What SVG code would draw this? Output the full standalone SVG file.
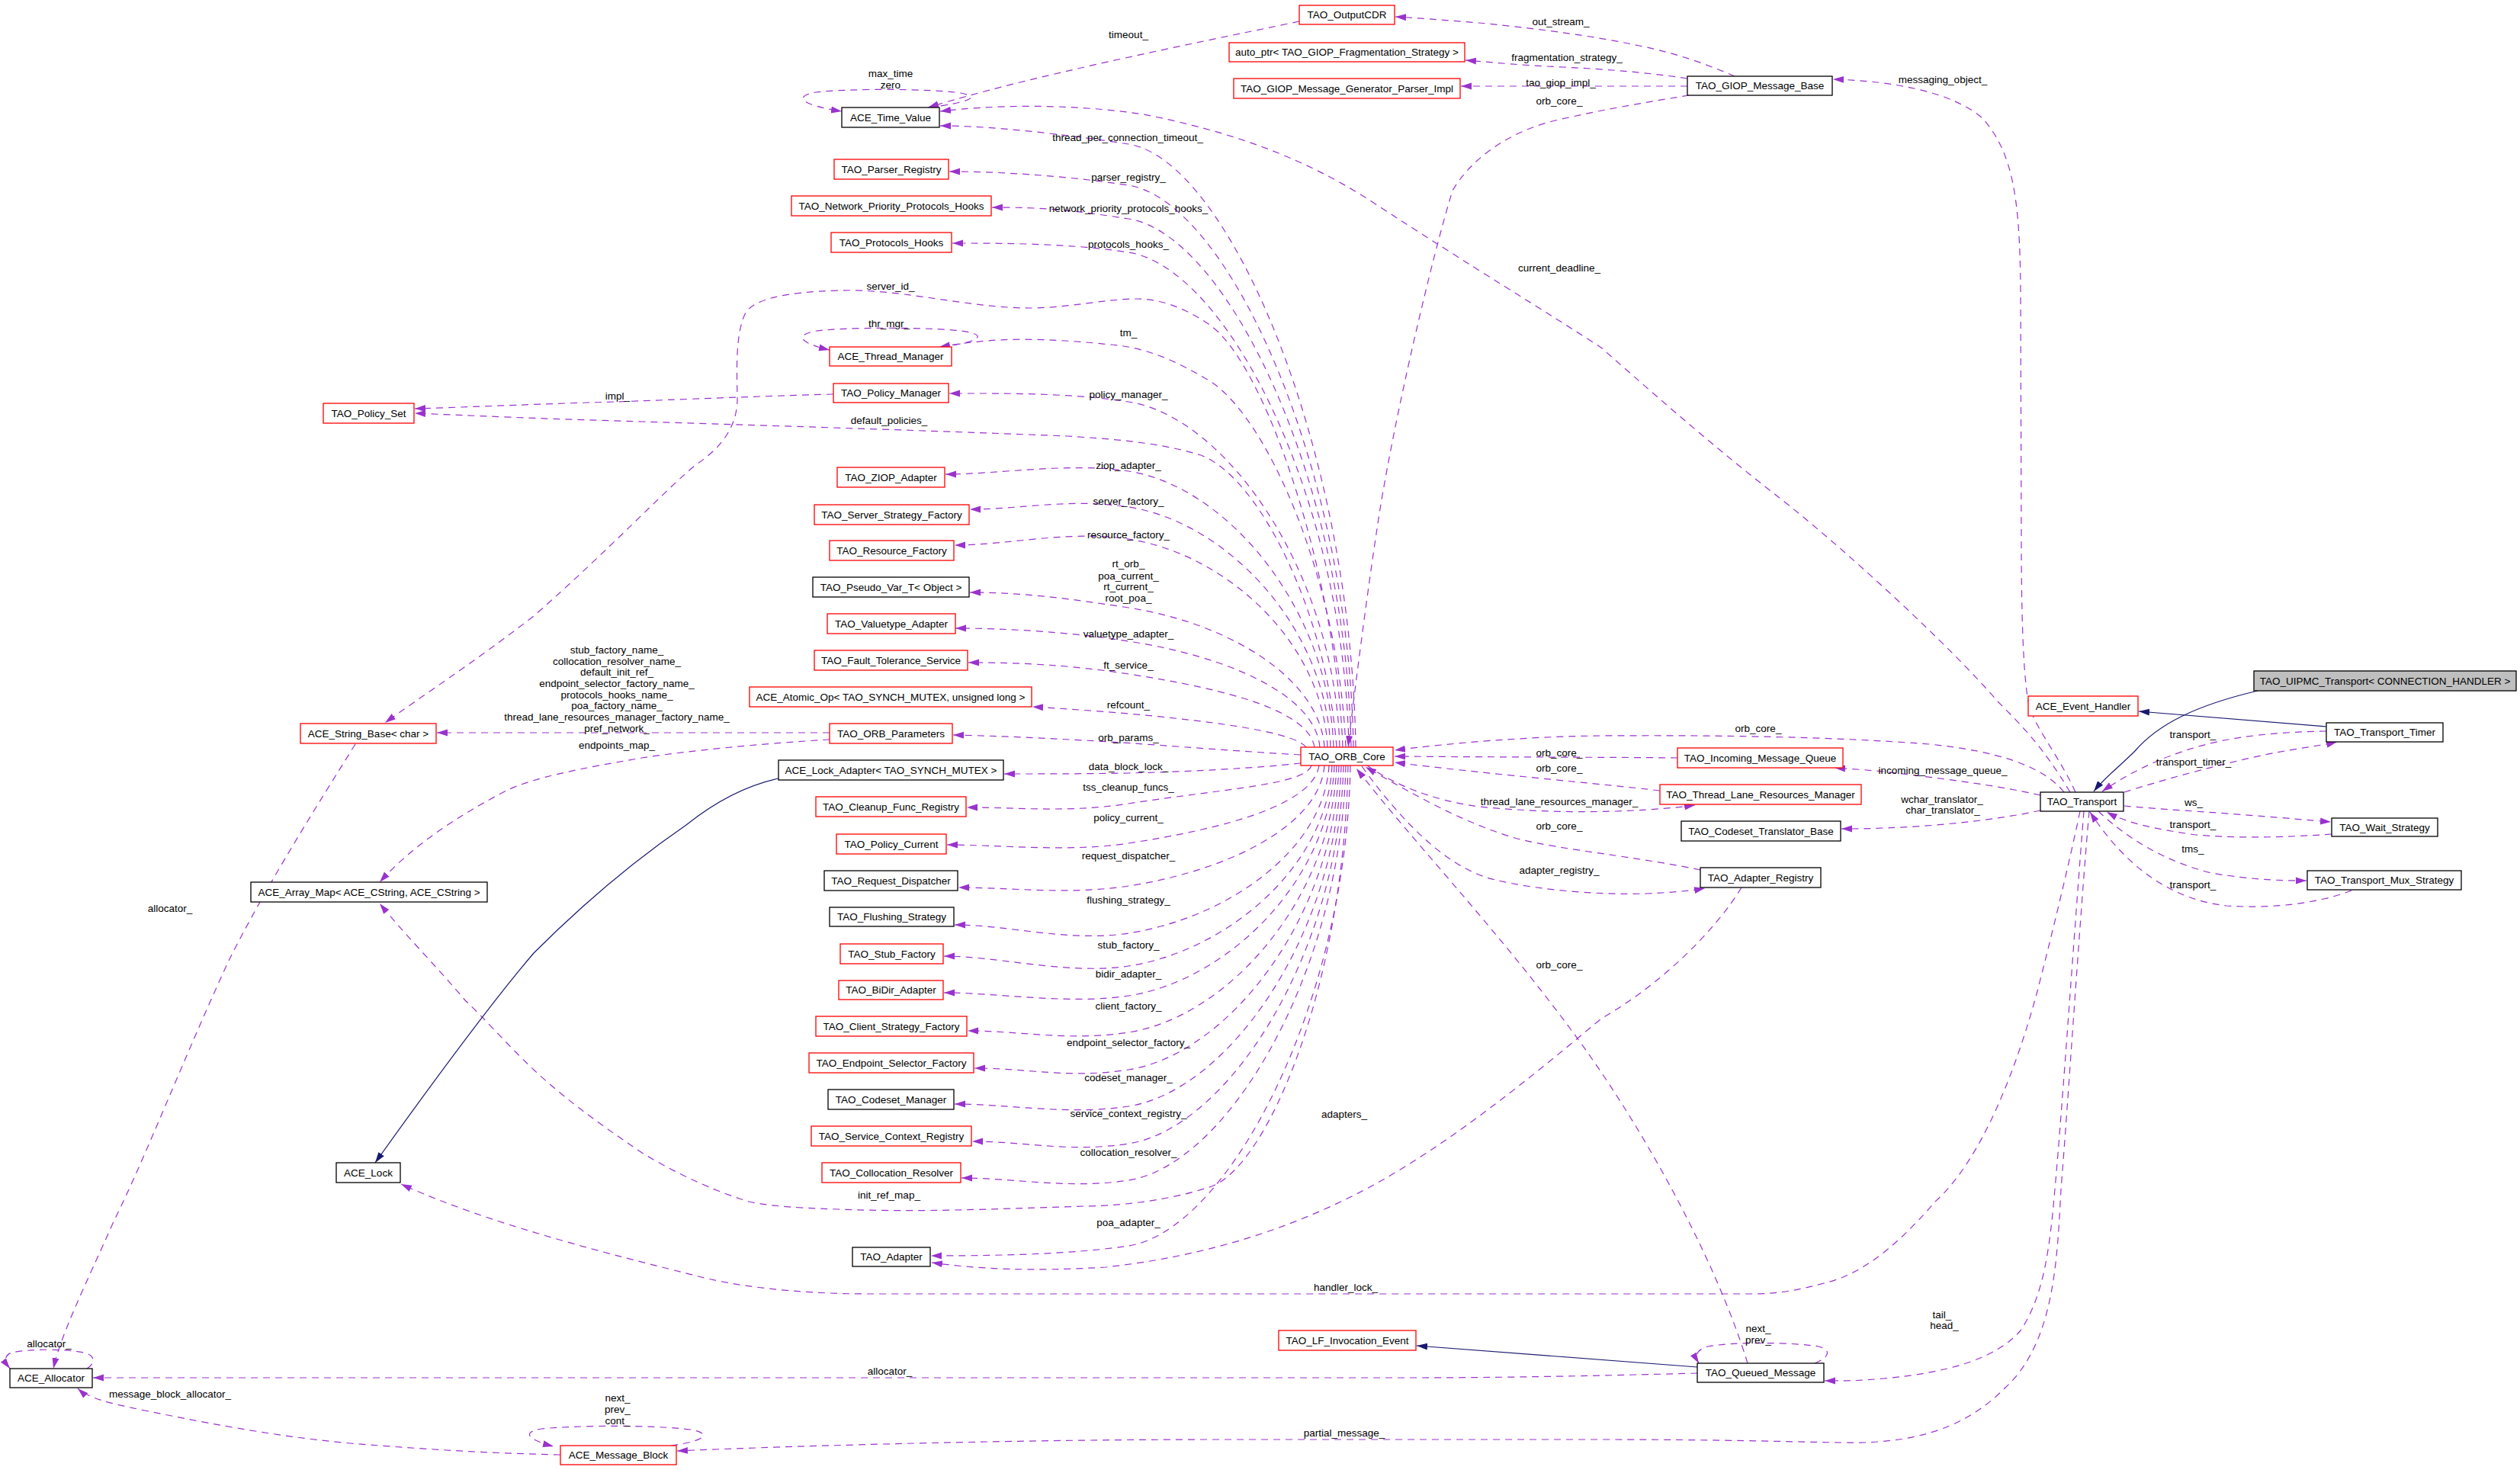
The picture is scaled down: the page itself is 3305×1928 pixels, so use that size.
<svg xmlns="http://www.w3.org/2000/svg" width="3305" height="1928" viewBox="0 0 3305 1928">
<style>
rect.r{fill:#fff;stroke:#ff0000;stroke-width:1.3}
rect.b{fill:#fff;stroke:#000;stroke-width:1.3}
rect.g{fill:#bfbfbf;stroke:#000;stroke-width:1.3}
text{font-family:"Liberation Sans",Arial,sans-serif;font-size:13.5px;fill:#000;text-anchor:middle}
#connectors path{fill:none}
.d{stroke:#9a32cd;stroke-width:1.2;stroke-dasharray:9,7;marker-end:url(#ap)}
.s{stroke:#191970;stroke-width:1.2;marker-end:url(#ab)}
</style>
<defs>
<marker id="ap" markerUnits="userSpaceOnUse" markerWidth="14" markerHeight="10" viewBox="0 0 14 10" refX="14" refY="5" orient="auto"><path d="M0,0.5 L14,5 L0,9.5 z" fill="#9a32cd"/></marker>
<marker id="ab" markerUnits="userSpaceOnUse" markerWidth="14" markerHeight="10" viewBox="0 0 14 10" refX="14" refY="5" orient="auto"><path d="M0,0.5 L14,5 L0,9.5 z" fill="#191970"/></marker>
</defs>
<rect width="3305" height="1928" fill="#fff"/>
<g id="connectors">
<path class="d" d="M2275,100 C2240,85 2200,70 2150,60 C2080,45 2000,36 1940,30 C1890,26 1850,23 1830,22"/>
<path class="d" d="M2213,103 C2160,95 2110,91 2050,88 C2000,86 1960,82 1922,79"/>
<path class="d" d="M2213,113 L1916,113"/>
<path class="d" d="M2215,125 C2160,134 2100,144 2040,158 C1970,175 1925,215 1905,250 C1880,330 1825,560 1805,700 C1790,800 1775,920 1768,979"/>
<path class="d" d="M1704,28 C1550,60 1350,100 1217,141"/>
<path class="d" d="M2715,1039 C2680,980 2650,950 2620,920 C2560,850 2420,720 2330,650 C2240,580 2150,500 2100,456 C2030,410 1930,350 1800,265 C1700,200 1600,170 1500,150 C1400,135 1300,138 1233,146"/>
<path class="d" d="M2722,1039 C2700,990 2665,950 2660,920 C2653,880 2651,800 2651,700 L2650,380 C2649,260 2640,200 2600,155 C2560,120 2480,106 2404,104"/>
<path class="d" d="M1218,141 C1265,135 1290,128 1260,122 C1220,116 1110,116 1070,121 C1040,126 1050,138 1104,146"/>
<path class="d" d="M1235,455 C1290,448 1295,438 1260,434 C1220,429 1110,429 1070,434 C1040,440 1050,450 1088,459"/>
<path class="d" d="M1778,980 C1772,585 1610,209 1480,189 C1402,177 1304,165 1233,165"/>
<path class="d" d="M1775,980 C1769,612 1610,263 1480,243 C1402,231 1315,225 1245,225"/>
<path class="d" d="M1772,980 C1766,634 1610,307 1480,287 C1402,275 1371,272 1301,272"/>
<path class="d" d="M1769,980 C1763,656 1610,351 1480,331 C1402,319 1319,319 1249,319"/>
<path class="d" d="M1765,980 C1756,760 1660,540 1582,497 C1540,472 1500,455 1456,452 C1400,446 1340,443 1295,447 C1270,449 1250,452 1232,455"/>
<path class="d" d="M1761,980 C1753,760 1660,470 1582,423 C1550,402 1520,392 1491,392 C1450,392 1400,404 1351,404 C1270,404 1180,378 1100,381 C1030,383 990,392 978,410 C965,435 966,480 967,520 C968,555 950,585 912,610 C870,645 800,720 700,808 C620,870 550,915 505,948"/>
<path class="d" d="M1757,980 C1751,754 1610,547 1480,527 C1402,515 1315,516 1245,516"/>
<path class="d" d="M1753,980 C1739,800 1650,625 1575,597 C1520,580 1460,576 1400,572 C1200,564 1000,558 842,553 C700,549 620,545 544,542"/>
<path class="d" d="M1093,517 C950,521 850,526 771,528 C680,531 610,534 544,536"/>
<path class="d" d="M1749,980 C1743,799 1610,638 1480,618 C1402,606 1310,622 1240,622"/>
<path class="d" d="M1745,980 C1739,823 1610,685 1480,665 C1402,653 1342,668 1272,668"/>
<path class="d" d="M1741,980 C1735,844 1610,727 1480,707 C1402,695 1322,715 1252,715"/>
<path class="d" d="M1737,980 C1731,889 1610,817 1480,797 C1402,785 1342,777 1272,777"/>
<path class="d" d="M1731,980 C1725,911 1610,861 1480,841 C1402,829 1323,824 1253,824"/>
<path class="d" d="M1724,980 C1716,932 1610,904 1480,884 C1402,872 1340,869 1270,869"/>
<path class="d" d="M1713,980 C1698,960 1590,946 1480,936 C1430,932 1390,929 1354,927"/>
<path class="d" d="M1706,990 C1600,984 1500,975 1421,971 C1350,967 1300,965 1250,964"/>
<path class="d" d="M1706,1001 C1640,1008 1560,1012 1480,1014 C1420,1015 1360,1015 1317,1015"/>
<path class="d" d="M1720,1004 C1712,1029 1610,1034 1480,1054 C1402,1066 1338,1059 1268,1059"/>
<path class="d" d="M1730,1004 C1722,1055 1610,1086 1480,1106 C1402,1118 1312,1108 1242,1108"/>
<path class="d" d="M1737,1004 C1731,1083 1610,1142 1480,1162 C1402,1174 1327,1164 1257,1164"/>
<path class="d" d="M1743,1004 C1737,1114 1610,1204 1480,1224 C1402,1236 1322,1213 1252,1213"/>
<path class="d" d="M1747,1004 C1741,1136 1610,1247 1480,1267 C1402,1279 1308,1254 1238,1254"/>
<path class="d" d="M1750,1004 C1744,1155 1610,1286 1480,1306 C1402,1318 1308,1302 1238,1302"/>
<path class="d" d="M1753,1004 C1747,1179 1610,1334 1480,1354 C1402,1366 1339,1352 1269,1352"/>
<path class="d" d="M1756,1004 C1750,1204 1610,1383 1480,1403 C1402,1415 1348,1401 1278,1401"/>
<path class="d" d="M1759,1004 C1753,1228 1610,1431 1480,1451 C1402,1463 1322,1448 1252,1448"/>
<path class="d" d="M1762,1004 C1756,1252 1610,1480 1480,1500 C1402,1512 1345,1497 1275,1497"/>
<path class="d" d="M1765,1004 C1759,1276 1610,1528 1480,1548 C1402,1560 1331,1545 1261,1545"/>
<path class="d" d="M1768,1004 C1762,1300 1660,1530 1589,1556 C1530,1576 1460,1582 1421,1582 C1300,1586 1200,1590 1100,1586 C1030,1584 1000,1580 982,1576 C930,1560 880,1535 842,1512 C780,1470 740,1440 701,1404 C660,1365 635,1335 610,1312 C575,1270 530,1225 498,1185"/>
<path class="d" d="M1771,1004 C1766,1319 1610,1614 1480,1634 C1402,1646 1291,1647 1221,1647"/>
<path class="d" d="M1088,961 L573,961"/>
<path class="d" d="M1088,970 C1000,975 900,985 842,994 C760,1008 700,1020 666,1036 C600,1070 540,1110 498,1157"/>
<path class="d" d="M2707,1039 C2680,1005 2620,985 2530,976 C2400,966 2250,964 2100,965 C2000,966 1900,975 1829,984"/>
<path class="d" d="M2200,994 C2100,993 1950,993 1829,992"/>
<path class="d" d="M2177,1037 C2100,1028 1950,1015 1829,1000"/>
<path class="d" d="M1793,1004 C1830,1030 1880,1050 1940,1058 C2020,1066 2100,1066 2160,1062 C2190,1060 2210,1058 2223,1056"/>
<path class="d" d="M2230,1141 C2150,1124 2050,1115 1990,1100 C1920,1080 1850,1040 1791,1006"/>
<path class="d" d="M1786,1005 C1840,1080 1900,1140 1961,1154 C2020,1168 2100,1174 2160,1172 C2200,1170 2220,1168 2236,1165"/>
<path class="d" d="M2292,1788 C2250,1650 2150,1470 2060,1350 C1960,1215 1850,1100 1779,1008"/>
<path class="d" d="M2284,1164 C2250,1220 2180,1290 2100,1336 C2000,1420 1900,1500 1800,1555 C1680,1620 1560,1650 1450,1662 C1350,1668 1280,1664 1222,1656"/>
<path class="d" d="M2676,1043 C2620,1030 2540,1020 2470,1012 C2440,1009 2420,1008 2406,1007"/>
<path class="d" d="M2676,1063 C2620,1075 2540,1084 2470,1086 C2450,1087 2430,1087 2415,1087"/>
<path class="d" d="M2786,1039 C2830,1025 2900,1005 2970,990 C3020,980 3045,978 3065,973"/>
<path class="d" d="M3051,959 C2990,960 2930,965 2880,980 C2830,995 2790,1015 2757,1038"/>
<path class="s" d="M2961,906 C2880,925 2830,950 2800,985 C2775,1010 2760,1020 2746,1038"/>
<path class="s" d="M3051,953 L2805,933"/>
<path class="d" d="M2786,1057 C2840,1062 2900,1065 2960,1070 C3000,1073 3030,1076 3057,1078"/>
<path class="d" d="M3058,1094 C3000,1098 2940,1100 2880,1095 C2830,1088 2790,1080 2763,1065"/>
<path class="d" d="M2752,1064 C2790,1100 2840,1130 2900,1145 C2960,1155 3000,1155 3025,1155"/>
<path class="d" d="M3084,1168 C3040,1185 2980,1192 2920,1188 C2850,1180 2790,1140 2741,1065"/>
<path class="d" d="M2728,1064 C2712,1140 2690,1230 2672,1300 C2645,1400 2600,1520 2538,1576 C2500,1620 2450,1670 2392,1683 C2360,1692 2330,1697 2300,1697 L1140,1697 C1040,1697 960,1686 912,1673 C800,1645 640,1605 526,1553"/>
<path class="d" d="M2733,1064 C2722,1200 2705,1450 2695,1560 C2688,1640 2680,1700 2650,1745 C2620,1780 2560,1800 2470,1808 C2440,1811 2420,1811 2393,1811"/>
<path class="d" d="M2740,1064 C2728,1200 2712,1450 2703,1560 C2698,1650 2695,1760 2630,1820 C2590,1860 2540,1888 2446,1892 C2400,1893 2300,1888 2100,1888 L1600,1888 C1300,1888 1000,1898 888,1903"/>
<path class="d" d="M2226,1801 C2150,1803 2000,1807 1850,1807 L122,1807"/>
<path class="s" d="M2226,1793 L1858,1765"/>
<path class="d" d="M2380,1788 C2400,1780 2402,1770 2385,1766 C2350,1760 2270,1760 2240,1766 C2225,1770 2222,1778 2228,1788"/>
<path class="d" d="M880,1896 C925,1890 935,1880 905,1875 C860,1869 760,1869 710,1874 C685,1878 690,1888 726,1897"/>
<path class="d" d="M735,1908 C640,1906 560,1901 460,1893 C350,1883 250,1862 190,1850 C140,1840 115,1833 102,1821"/>
<path class="d" d="M114,1795 C125,1788 126,1778 110,1774 C85,1769 40,1769 15,1774 C5,1778 6,1786 13,1795"/>
<path class="d" d="M466,976 C420,1050 350,1160 300,1260 C240,1390 190,1520 150,1600 C110,1690 80,1750 70,1795"/>
<path class="s" d="M1021,1021 C980,1030 940,1050 900,1082 C830,1130 760,1190 700,1250 C640,1320 560,1430 492,1525"/>
</g>
<g id="edge-labels">
<text x="1480" y="49.6">timeout_</text>
<text x="1168" y="100.6">max_time</text>
<text x="1168" y="115.8">zero</text>
<text x="2047" y="32.6">out_stream_</text>
<text x="2055" y="79.8">fragmentation_strategy_</text>
<text x="2047" y="112.8">tao_giop_impl_</text>
<text x="2045" y="136.8">orb_core_</text>
<text x="2548" y="108.8">messaging_object_</text>
<text x="1479" y="184.8">thread_per_connection_timeout_</text>
<text x="1480" y="236.8">parser_registry_</text>
<text x="1480" y="277.6">network_priority_protocols_hooks_</text>
<text x="1480" y="324.8">protocols_hooks_</text>
<text x="2045" y="356.3">current_deadline_</text>
<text x="1168" y="379.8">server_id_</text>
<text x="1166" y="428.5">thr_mgr_</text>
<text x="1480" y="441.3">tm_</text>
<text x="810" y="523.8">impl_</text>
<text x="1480" y="522.2">policy_manager_</text>
<text x="1166" y="556.1">default_policies_</text>
<text x="1480" y="615.4">ziop_adapter_</text>
<text x="1480" y="661.8">server_factory_</text>
<text x="1480" y="705.8">resource_factory_</text>
<text x="1480" y="744.3">rt_orb_</text>
<text x="1480" y="759.7">poa_current_</text>
<text x="1480" y="774.2">rt_current_</text>
<text x="1480" y="788.7">root_poa_</text>
<text x="1480" y="835.5">valuetype_adapter_</text>
<text x="1480" y="876.6">ft_service_</text>
<text x="1480" y="929.2">refcount_</text>
<text x="1480" y="971.9">orb_params_</text>
<text x="1480" y="1009.7">data_block_lock_</text>
<text x="1480" y="1036.6">tss_cleanup_funcs_</text>
<text x="1480" y="1076.8">policy_current_</text>
<text x="1480" y="1127.4">request_dispatcher_</text>
<text x="1480" y="1184.6">flushing_strategy_</text>
<text x="1480" y="1243.5">stub_factory_</text>
<text x="1480" y="1281.6">bidir_adapter_</text>
<text x="1480" y="1324">client_factory_</text>
<text x="1480" y="1371.7">endpoint_selector_factory_</text>
<text x="1480" y="1417.7">codeset_manager_</text>
<text x="1480" y="1465.4">service_context_registry_</text>
<text x="1480" y="1515.5">collocation_resolver_</text>
<text x="1166" y="1572.3">init_ref_map_</text>
<text x="1480" y="1608">poa_adapter_</text>
<text x="1763" y="1465.8">adapters_</text>
<text x="1765" y="1693.3">handler_lock_</text>
<text x="1167" y="1803.4">allocator_</text>
<text x="1763" y="1883.5">partial_message_</text>
<text x="809" y="856.7">stub_factory_name_</text>
<text x="809" y="871.6">collocation_resolver_name_</text>
<text x="809" y="885.7">default_init_ref_</text>
<text x="809" y="900.6">endpoint_selector_factory_name_</text>
<text x="809" y="915.5">protocols_hooks_name_</text>
<text x="809" y="929.6">poa_factory_name_</text>
<text x="809" y="944.6">thread_lane_resources_manager_factory_name_</text>
<text x="809" y="959.5">pref_network_</text>
<text x="809" y="981.5">endpoints_map_</text>
<text x="223" y="1195.8">allocator_</text>
<text x="64.5" y="1767.4">allocator_</text>
<text x="223" y="1832.7">message_block_allocator_</text>
<text x="810" y="1837.5">next_</text>
<text x="810" y="1852.7">prev_</text>
<text x="810" y="1867.5">cont_</text>
<text x="2306" y="959.8">orb_core_</text>
<text x="2045" y="991.8">orb_core_</text>
<text x="2045" y="1011.8">orb_core_</text>
<text x="2045" y="1055.8">thread_lane_resources_manager_</text>
<text x="2045" y="1087.8">orb_core_</text>
<text x="2045" y="1145.8">adapter_registry_</text>
<text x="2045" y="1269.6">orb_core_</text>
<text x="2548" y="1015.4">incoming_message_queue_</text>
<text x="2547" y="1052.8">wchar_translator_</text>
<text x="2548" y="1067.3">char_translator_</text>
<text x="2876" y="967.8">transport_</text>
<text x="2877" y="1003.8">transport_timer_</text>
<text x="2877" y="1056.8">ws_</text>
<text x="2876" y="1085.8">transport_</text>
<text x="2876" y="1117.8">tms_</text>
<text x="2876" y="1164.8">transport_</text>
<text x="2547" y="1728.5">tail_</text>
<text x="2550" y="1743.4">head_</text>
<text x="2306" y="1747.4">next_</text>
<text x="2306" y="1762.2">prev_</text>
</g>
<g id="TAO_OutputCDR"><rect class="r" x="1704" y="7" width="125" height="25"/><text x="1766.5" y="24.3">TAO_OutputCDR</text></g>
<g id="auto_ptr_Fragmentation"><rect class="r" x="1612" y="56" width="309" height="25"/><text x="1766.5" y="73.3">auto_ptr&lt; TAO_GIOP_Fragmentation_Strategy &gt;</text></g>
<g id="TAO_GIOP_Message_Generator_Parser_Impl"><rect class="r" x="1618" y="103" width="297" height="26"/><text x="1766.5" y="120.8">TAO_GIOP_Message_Generator_Parser_Impl</text></g>
<g id="TAO_GIOP_Message_Base"><rect class="b" x="2213" y="100" width="190" height="25"/><text x="2308" y="117.3">TAO_GIOP_Message_Base</text></g>
<g id="ACE_Time_Value"><rect class="b" x="1104" y="141" width="128" height="26"/><text x="1168" y="158.8">ACE_Time_Value</text></g>
<g id="TAO_Parser_Registry"><rect class="r" x="1094" y="209" width="150" height="26"/><text x="1169" y="226.8">TAO_Parser_Registry</text></g>
<g id="TAO_Network_Priority_Protocols_Hooks"><rect class="r" x="1038" y="257" width="262" height="26"/><text x="1169" y="274.8">TAO_Network_Priority_Protocols_Hooks</text></g>
<g id="TAO_Protocols_Hooks"><rect class="r" x="1090" y="305" width="158" height="26"/><text x="1169" y="322.8">TAO_Protocols_Hooks</text></g>
<g id="ACE_Thread_Manager"><rect class="r" x="1088" y="455" width="160" height="25"/><text x="1168" y="472.3">ACE_Thread_Manager</text></g>
<g id="TAO_Policy_Manager"><rect class="r" x="1093" y="503" width="151" height="25"/><text x="1168.5" y="520.3">TAO_Policy_Manager</text></g>
<g id="TAO_Policy_Set"><rect class="r" x="424" y="529" width="119" height="26"/><text x="483.5" y="546.8">TAO_Policy_Set</text></g>
<g id="TAO_ZIOP_Adapter"><rect class="r" x="1098" y="613" width="141" height="26"/><text x="1168.5" y="630.8">TAO_ZIOP_Adapter</text></g>
<g id="TAO_Server_Strategy_Factory"><rect class="r" x="1068" y="662" width="203" height="26"/><text x="1169.5" y="679.8">TAO_Server_Strategy_Factory</text></g>
<g id="TAO_Resource_Factory"><rect class="r" x="1088" y="709" width="163" height="26"/><text x="1169.5" y="726.8">TAO_Resource_Factory</text></g>
<g id="TAO_Pseudo_Var_T_Object"><rect class="b" x="1066" y="757" width="205" height="26"/><text x="1168.5" y="774.8">TAO_Pseudo_Var_T&lt; Object &gt;</text></g>
<g id="TAO_Valuetype_Adapter"><rect class="r" x="1085" y="805" width="168" height="26"/><text x="1169" y="822.8">TAO_Valuetype_Adapter</text></g>
<g id="TAO_Fault_Tolerance_Service"><rect class="r" x="1068" y="853" width="201" height="26"/><text x="1168.5" y="870.8">TAO_Fault_Tolerance_Service</text></g>
<g id="ACE_Atomic_Op"><rect class="r" x="983" y="901" width="370" height="26"/><text x="1168" y="918.8">ACE_Atomic_Op&lt; TAO_SYNCH_MUTEX, unsigned long &gt;</text></g>
<g id="ACE_String_Base_char"><rect class="r" x="394" y="949" width="178" height="26"/><text x="483" y="966.8">ACE_String_Base&lt; char &gt;</text></g>
<g id="TAO_ORB_Parameters"><rect class="r" x="1088" y="949" width="161" height="26"/><text x="1168.5" y="966.8">TAO_ORB_Parameters</text></g>
<g id="TAO_ORB_Core"><rect class="r" x="1706" y="980" width="121" height="24"/><text x="1766.5" y="996.8">TAO_ORB_Core</text></g>
<g id="ACE_Lock_Adapter"><rect class="b" x="1021" y="997" width="295" height="26"/><text x="1168.5" y="1014.8">ACE_Lock_Adapter&lt; TAO_SYNCH_MUTEX &gt;</text></g>
<g id="TAO_Cleanup_Func_Registry"><rect class="r" x="1070" y="1045" width="197" height="26"/><text x="1168.5" y="1062.8">TAO_Cleanup_Func_Registry</text></g>
<g id="TAO_Policy_Current"><rect class="r" x="1097" y="1094" width="144" height="26"/><text x="1169" y="1111.8">TAO_Policy_Current</text></g>
<g id="TAO_Request_Dispatcher"><rect class="b" x="1081" y="1142" width="175" height="26"/><text x="1168.5" y="1159.8">TAO_Request_Dispatcher</text></g>
<g id="ACE_Array_Map"><rect class="b" x="329" y="1157" width="310" height="26"/><text x="484" y="1174.8">ACE_Array_Map&lt; ACE_CString, ACE_CString &gt;</text></g>
<g id="TAO_Flushing_Strategy"><rect class="b" x="1088" y="1190" width="163" height="25"/><text x="1169.5" y="1207.3">TAO_Flushing_Strategy</text></g>
<g id="TAO_Stub_Factory"><rect class="r" x="1102" y="1238" width="135" height="26"/><text x="1169.5" y="1255.8">TAO_Stub_Factory</text></g>
<g id="TAO_BiDir_Adapter"><rect class="r" x="1100" y="1286" width="137" height="25"/><text x="1168.5" y="1303.3">TAO_BiDir_Adapter</text></g>
<g id="TAO_Client_Strategy_Factory"><rect class="r" x="1070" y="1333" width="198" height="26"/><text x="1169" y="1350.8">TAO_Client_Strategy_Factory</text></g>
<g id="TAO_Endpoint_Selector_Factory"><rect class="r" x="1061" y="1381" width="216" height="26"/><text x="1169" y="1398.8">TAO_Endpoint_Selector_Factory</text></g>
<g id="TAO_Codeset_Manager"><rect class="b" x="1086" y="1429" width="165" height="26"/><text x="1168.5" y="1446.8">TAO_Codeset_Manager</text></g>
<g id="TAO_Service_Context_Registry"><rect class="r" x="1064" y="1477" width="210" height="26"/><text x="1169" y="1494.8">TAO_Service_Context_Registry</text></g>
<g id="TAO_Collocation_Resolver"><rect class="r" x="1078" y="1525" width="182" height="26"/><text x="1169" y="1542.8">TAO_Collocation_Resolver</text></g>
<g id="ACE_Lock"><rect class="b" x="441" y="1525" width="84" height="26"/><text x="483" y="1542.8">ACE_Lock</text></g>
<g id="TAO_Adapter"><rect class="b" x="1118" y="1636" width="102" height="25"/><text x="1169" y="1653.3">TAO_Adapter</text></g>
<g id="TAO_LF_Invocation_Event"><rect class="r" x="1677" y="1745" width="180" height="26"/><text x="1767" y="1762.8">TAO_LF_Invocation_Event</text></g>
<g id="ACE_Allocator"><rect class="b" x="13" y="1795" width="108" height="25"/><text x="67" y="1812.3">ACE_Allocator</text></g>
<g id="ACE_Message_Block"><rect class="r" x="735" y="1896" width="152" height="25"/><text x="811" y="1913.3">ACE_Message_Block</text></g>
<g id="TAO_Queued_Message"><rect class="b" x="2226" y="1788" width="166" height="25"/><text x="2309" y="1805.3">TAO_Queued_Message</text></g>
<g id="TAO_UIPMC_Transport"><rect class="g" x="2956" y="880" width="344" height="26"/><text x="3128" y="897.8">TAO_UIPMC_Transport&lt; CONNECTION_HANDLER &gt;</text></g>
<g id="ACE_Event_Handler"><rect class="r" x="2660" y="913" width="144" height="26"/><text x="2732" y="930.8">ACE_Event_Handler</text></g>
<g id="TAO_Transport_Timer"><rect class="b" x="3051" y="948" width="153" height="25"/><text x="3127.5" y="965.3">TAO_Transport_Timer</text></g>
<g id="TAO_Incoming_Message_Queue"><rect class="r" x="2200" y="981" width="217" height="26"/><text x="2308.5" y="998.8">TAO_Incoming_Message_Queue</text></g>
<g id="TAO_Thread_Lane_Resources_Manager"><rect class="r" x="2177" y="1029" width="264" height="26"/><text x="2309" y="1046.8">TAO_Thread_Lane_Resources_Manager</text></g>
<g id="TAO_Transport"><rect class="b" x="2676" y="1039" width="109" height="25"/><text x="2730.5" y="1056.3">TAO_Transport</text></g>
<g id="TAO_Codeset_Translator_Base"><rect class="b" x="2205" y="1077" width="209" height="26"/><text x="2309.5" y="1094.8">TAO_Codeset_Translator_Base</text></g>
<g id="TAO_Wait_Strategy"><rect class="b" x="3058" y="1073" width="139" height="24"/><text x="3127.5" y="1089.8">TAO_Wait_Strategy</text></g>
<g id="TAO_Adapter_Registry"><rect class="b" x="2230" y="1138" width="158" height="26"/><text x="2309" y="1155.8">TAO_Adapter_Registry</text></g>
<g id="TAO_Transport_Mux_Strategy"><rect class="b" x="3026" y="1142" width="202" height="25"/><text x="3127" y="1159.3">TAO_Transport_Mux_Strategy</text></g>
</svg>
